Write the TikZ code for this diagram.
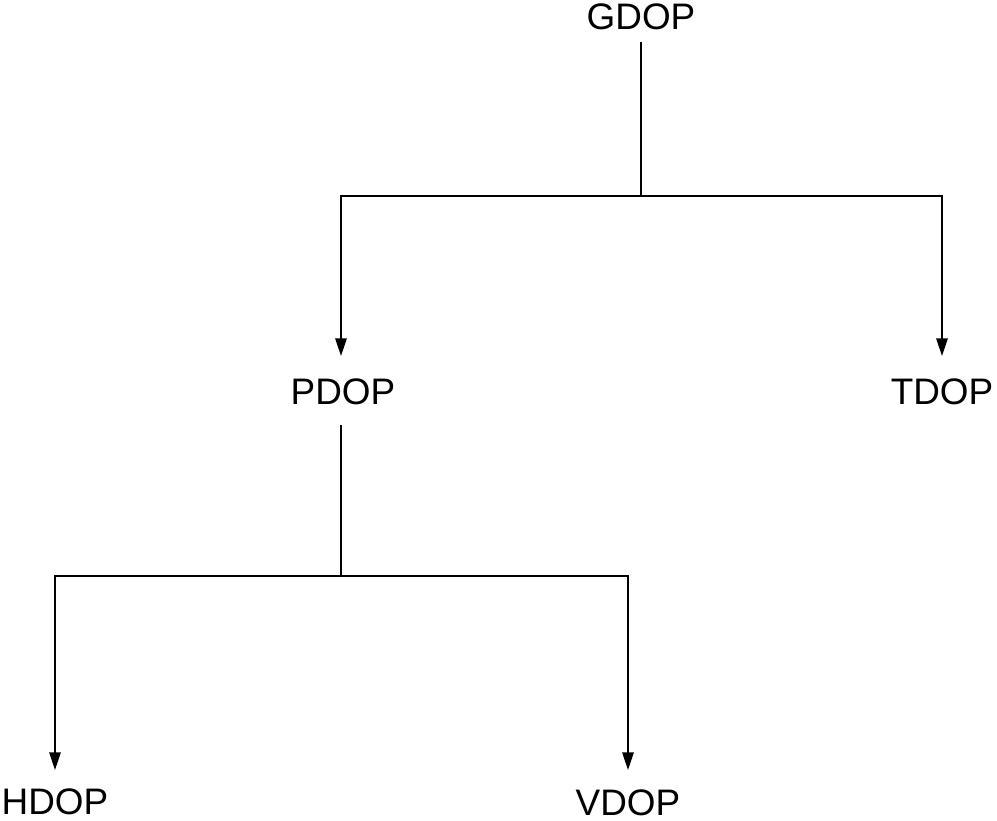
\documentclass[tikz,border=0pt]{standalone}
\usepackage{fontspec}
\setmainfont{Liberation Sans}
\usetikzlibrary{arrows.meta}
\begin{document}
\begin{tikzpicture}[x=0.02cm,y=-0.02cm,
  lbl/.style={font=\fontsize{21}{25}\selectfont, inner sep=0pt, anchor=center},
  conn/.style={line width=0.9pt},
  arr/.style={conn,-{Triangle[length=10pt,width=6.5pt]}}]
\useasboundingbox (0,0) rectangle (997,821);
\node[lbl] (g) at (641,17) {GDOP};
\node[lbl] (p) at (343,392) {PDOP};
\node[lbl] (t) at (942,392) {TDOP};
\node[lbl] (h) at (55,802) {HDOP};
\node[lbl] (v) at (628,803) {VDOP};
\coordinate (gb) at (641,42);
\coordinate (gj) at (641,196);
\coordinate (gl) at (341,196);
\coordinate (gr) at (942,196);
\coordinate (pa) at (341,356);
\coordinate (ta) at (942,356);
\coordinate (pb) at (341,425);
\coordinate (pj) at (341,576);
\coordinate (pl) at (55,576);
\coordinate (pr) at (628,576);
\coordinate (ha) at (55,770);
\coordinate (va) at (628,770);
\draw[conn] (gb) -- (gj);
\draw[arr] (gj) -- (gl) -- (pa);
\draw[arr] (gj) -- (gr) -- (ta);
\draw[conn] (pb) -- (pj);
\draw[arr] (pj) -- (pl) -- (ha);
\draw[arr] (pj) -- (pr) -- (va);
\end{tikzpicture}
\end{document}
